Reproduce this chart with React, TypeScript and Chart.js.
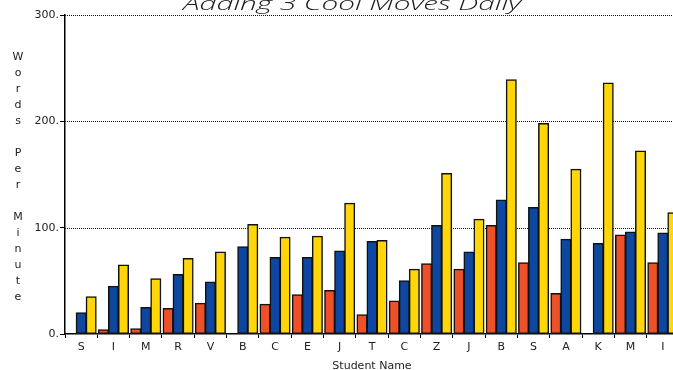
import React, { useEffect, useRef } from "react";
import { Chart, registerables } from "chart.js";

Chart.register(...registerables);

const chartTitle = "Adding 3 Cool Moves Daily";
const yAxisTitle = "Words Per Minute";
const xAxisTitle = "Student Name";
const categories = ["S", "I", "M", "R", "V", "B", "C", "E", "J", "T", "C", "Z", "J", "B", "S", "A", "K", "M", "I"];
const redValues = [0, 4, 5, 24, 29, 0, 28, 37, 41, 18, 31, 66, 61, 102, 67, 38, 0, 93, 67];
const blueValues = [20, 45, 25, 56, 49, 82, 72, 72, 78, 87, 50, 102, 77, 126, 119, 89, 85, 96, 95];
const yellowValues = [35, 65, 52, 71, 77, 103, 91, 92, 123, 88, 61, 151, 108, 239, 198, 155, 236, 172, 114];
const yTicks = [0, 100, 200, 300];

const CANVAS_W = 702;
const CANVAS_H = 386;
const TOP_OFFSET = -13;

const gridPlugin = {
  id: "dottedGrid",
  beforeDatasetsDraw(chart: any) {
    const ctx = chart.ctx;
    const y = chart.scales.y;
    const area = chart.chartArea;
    ctx.save();
    ctx.strokeStyle = "#111";
    ctx.lineWidth = 1;
    ctx.setLineDash([1, 1]);
    yTicks.forEach((v) => {
      if (v === 0) return;
      const py = Math.round(y.getPixelForValue(v)) + 0.5;
      ctx.beginPath();
      ctx.moveTo(area.left, py);
      ctx.lineTo(area.right, py);
      ctx.stroke();
    });
    ctx.restore();
  },
};

const textPlugin = {
  id: "customText",
  afterDraw(chart: any) {
    const ctx = chart.ctx;
    ctx.save();
    ctx.fillStyle = "#1a1a1a";
    ctx.font = "italic 300 18px 'Open Sans'";
    ctx.textBaseline = "alphabetic";
    ctx.textAlign = "center";
    const w = ctx.measureText(chartTitle).width;
    const target = 338;
    const sx = target / w;
    ctx.translate(352, 10 - TOP_OFFSET);
    ctx.scale(sx, 1);
    ctx.fillText(chartTitle, 0, 0);
    ctx.restore();

    ctx.save();
    ctx.fillStyle = "#222";
    ctx.font = "11px 'DejaVu Sans'";
    ctx.textAlign = "center";
    ctx.textBaseline = "middle";
    const chars = yAxisTitle.split("");
    chars.forEach((c, i) => {
      if (c !== " ") ctx.fillText(c, 18, 57 + 16 * i - TOP_OFFSET);
    });
    ctx.restore();
  },
};

export default function App() {
  const ref = useRef<HTMLCanvasElement>(null);
  useEffect(() => {
    if (!ref.current) return;
    const mk = (label: string, data: number[], color: string) => ({
      label,
      data,
      backgroundColor: color,
      borderColor: "#111",
      borderWidth: 1.5,
      borderSkipped: false,
      inflateAmount: 0.5,
      categoryPercentage: 0.93,
      barPercentage: 1.0,
    });
    const chart = new Chart(ref.current, {
      type: "bar",
      data: {
        labels: categories,
        datasets: [
          mk("Red", redValues, "#EE5128"),
          mk("Blue", blueValues, "#0D47A0"),
          mk("Yellow", yellowValues, "#FFD708"),
        ],
      },
      options: {
        responsive: false,
        animation: false,
        layout: { padding: { top: 28, left: 8, right: 23, bottom: 0 } },
        plugins: {
          legend: { display: false },
          tooltip: { enabled: false },
          title: { display: false },
        },
        scales: {
          x: {
            offset: true,
            grid: {
              display: true,
              drawOnChartArea: false,
              offset: true,
              tickLength: 4,
              color: "#000",
              tickColor: "#000",
              lineWidth: 1,
            },
            border: { display: true, color: "#000", width: 1.5 },
            ticks: {
              color: "#222",
              font: { family: "'DejaVu Sans'", size: 11 },
              padding: 3,
              maxRotation: 0,
              autoSkip: false,
            },
            title: {
              display: true,
              text: xAxisTitle,
              color: "#222",
              font: { family: "'DejaVu Sans'", size: 11 },
              padding: { top: 2, bottom: 0 },
            },
            afterFit: (scale: any) => {
              scale.height = 39;
            },
          },
          y: {
            min: 0,
            max: 300,
            afterBuildTicks: (scale: any) => {
              scale.ticks = yTicks.map((v) => ({ value: v }));
            },
            grid: {
              drawOnChartArea: false,
              lineWidth: 1,
              tickLength: 5,
              color: "#000",
              tickColor: "#000",
            },
            border: { display: true, color: "#000", width: 1.5 },
            ticks: {
              color: "#222",
              font: { family: "'DejaVu Sans'", size: 11 },
              padding: 1,
              callback: (v: any) => v + ".",
            },
            afterFit: (scale: any) => {
              scale.width = 57;
            },
          },
        },
      },
      plugins: [gridPlugin, textPlugin],
    });
    return () => chart.destroy();
  }, []);
  return (
    <div
      style={{
        position: "fixed",
        left: 0,
        top: 0,
        width: 673,
        height: 370,
        overflow: "hidden",
        background: "#fff",
      }}
    >
      <canvas
        ref={ref}
        width={CANVAS_W}
        height={CANVAS_H}
        style={{ position: "absolute", left: 0, top: TOP_OFFSET, width: CANVAS_W, height: CANVAS_H }}
      />
    </div>
  );
}
